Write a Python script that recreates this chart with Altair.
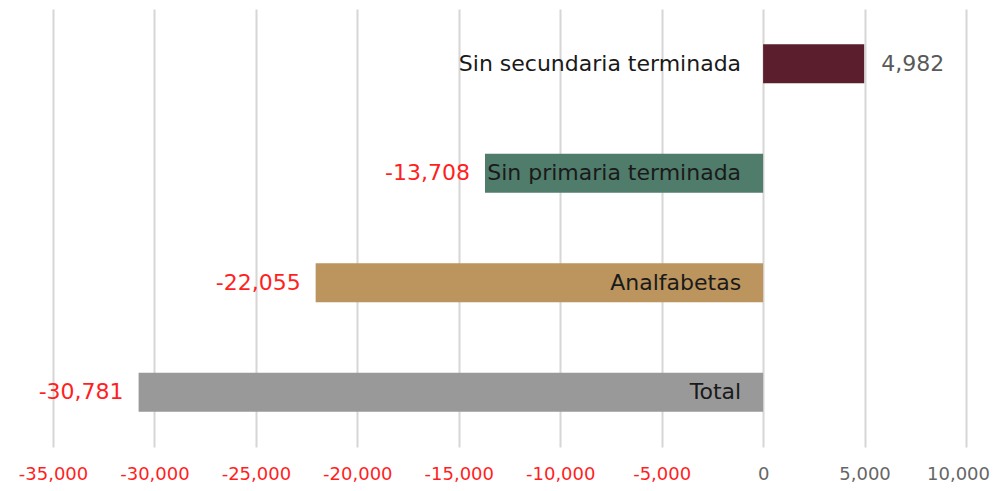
import altair as alt
import pandas as pd

categories = ["Sin secundaria terminada", "Sin primaria terminada", "Analfabetas", "Total"]
values = [4982, -13708, -22055, -30781]
value_labels = ["4,982", "-13,708", "-22,055", "-30,781"]
colors = ["#5a1e2c", "#507c6c", "#bb945e", "#999999"]
tick_values = [-35000, -30000, -25000, -20000, -15000, -10000, -5000, 0, 5000, 10000]

df = pd.DataFrame({"cat": categories, "val": values, "lab": value_labels, "zero": [0] * 4})

FONT = "DejaVu Sans"

y_enc = alt.Y("cat:N", sort=categories, axis=None,
              scale=alt.Scale(paddingInner=0.644, paddingOuter=0.322))
x_scale = alt.Scale(domain=[-35000, 10000], nice=False, zero=False)
x_axis = alt.Axis(values=tick_values, format=",.0f",
                  labelExpr="replace(datum.label, '\u2212', '-')",
                  domain=False, ticks=False, grid=True,
                  gridColor="#d6d6d6", gridWidth=2,
                  labelFont=FONT, labelFontSize=18, labelPadding=18,
                  labelOverlap=False, labelFlush=False, labelBound=False,
                  labelOffset=alt.ExprRef("datum.value >= 10000 ? -8 : 0"),
                  labelColor=alt.ExprRef("datum.value < 0 ? '#ff1f1f' : '#666666'"),
                  title=None)

def xq(field):
    return alt.X(field, type="quantitative", scale=x_scale, axis=x_axis, title=None)

bars = alt.Chart(df).mark_bar().encode(
    x=xq("val"),
    x2="zero:Q",
    y=y_enc,
    color=alt.Color("cat:N", scale=alt.Scale(domain=categories, range=colors), legend=None),
)

cat_text = alt.Chart(df).mark_text(align="right", baseline="middle", dx=-22,
                                   font=FONT, fontSize=22, color="#1a1a1a").encode(
    x=xq("zero"), y=y_enc, text="cat:N")

pos_text = alt.Chart(df).transform_filter("datum.val >= 0").mark_text(
    align="left", baseline="middle", dx=17, font=FONT, fontSize=22, color="#595959").encode(
    x=xq("val"), y=y_enc, text="lab:N")

neg_text = alt.Chart(df).transform_filter("datum.val < 0").mark_text(
    align="right", baseline="middle", dx=-15, font=FONT, fontSize=22, color="#ff1f1f").encode(
    x=xq("val"), y=y_enc, text="lab:N")

chart = alt.layer(bars, cat_text, pos_text, neg_text).properties(
    width=913, height=438,
    background="white",
    autosize=alt.AutoSizeParams(type="none"),
    padding={"left": 45, "top": 1, "right": 28, "bottom": 44},
).configure_view(stroke=None)

chart.save("out.html", embed_options={"renderer": "svg", "actions": False})
